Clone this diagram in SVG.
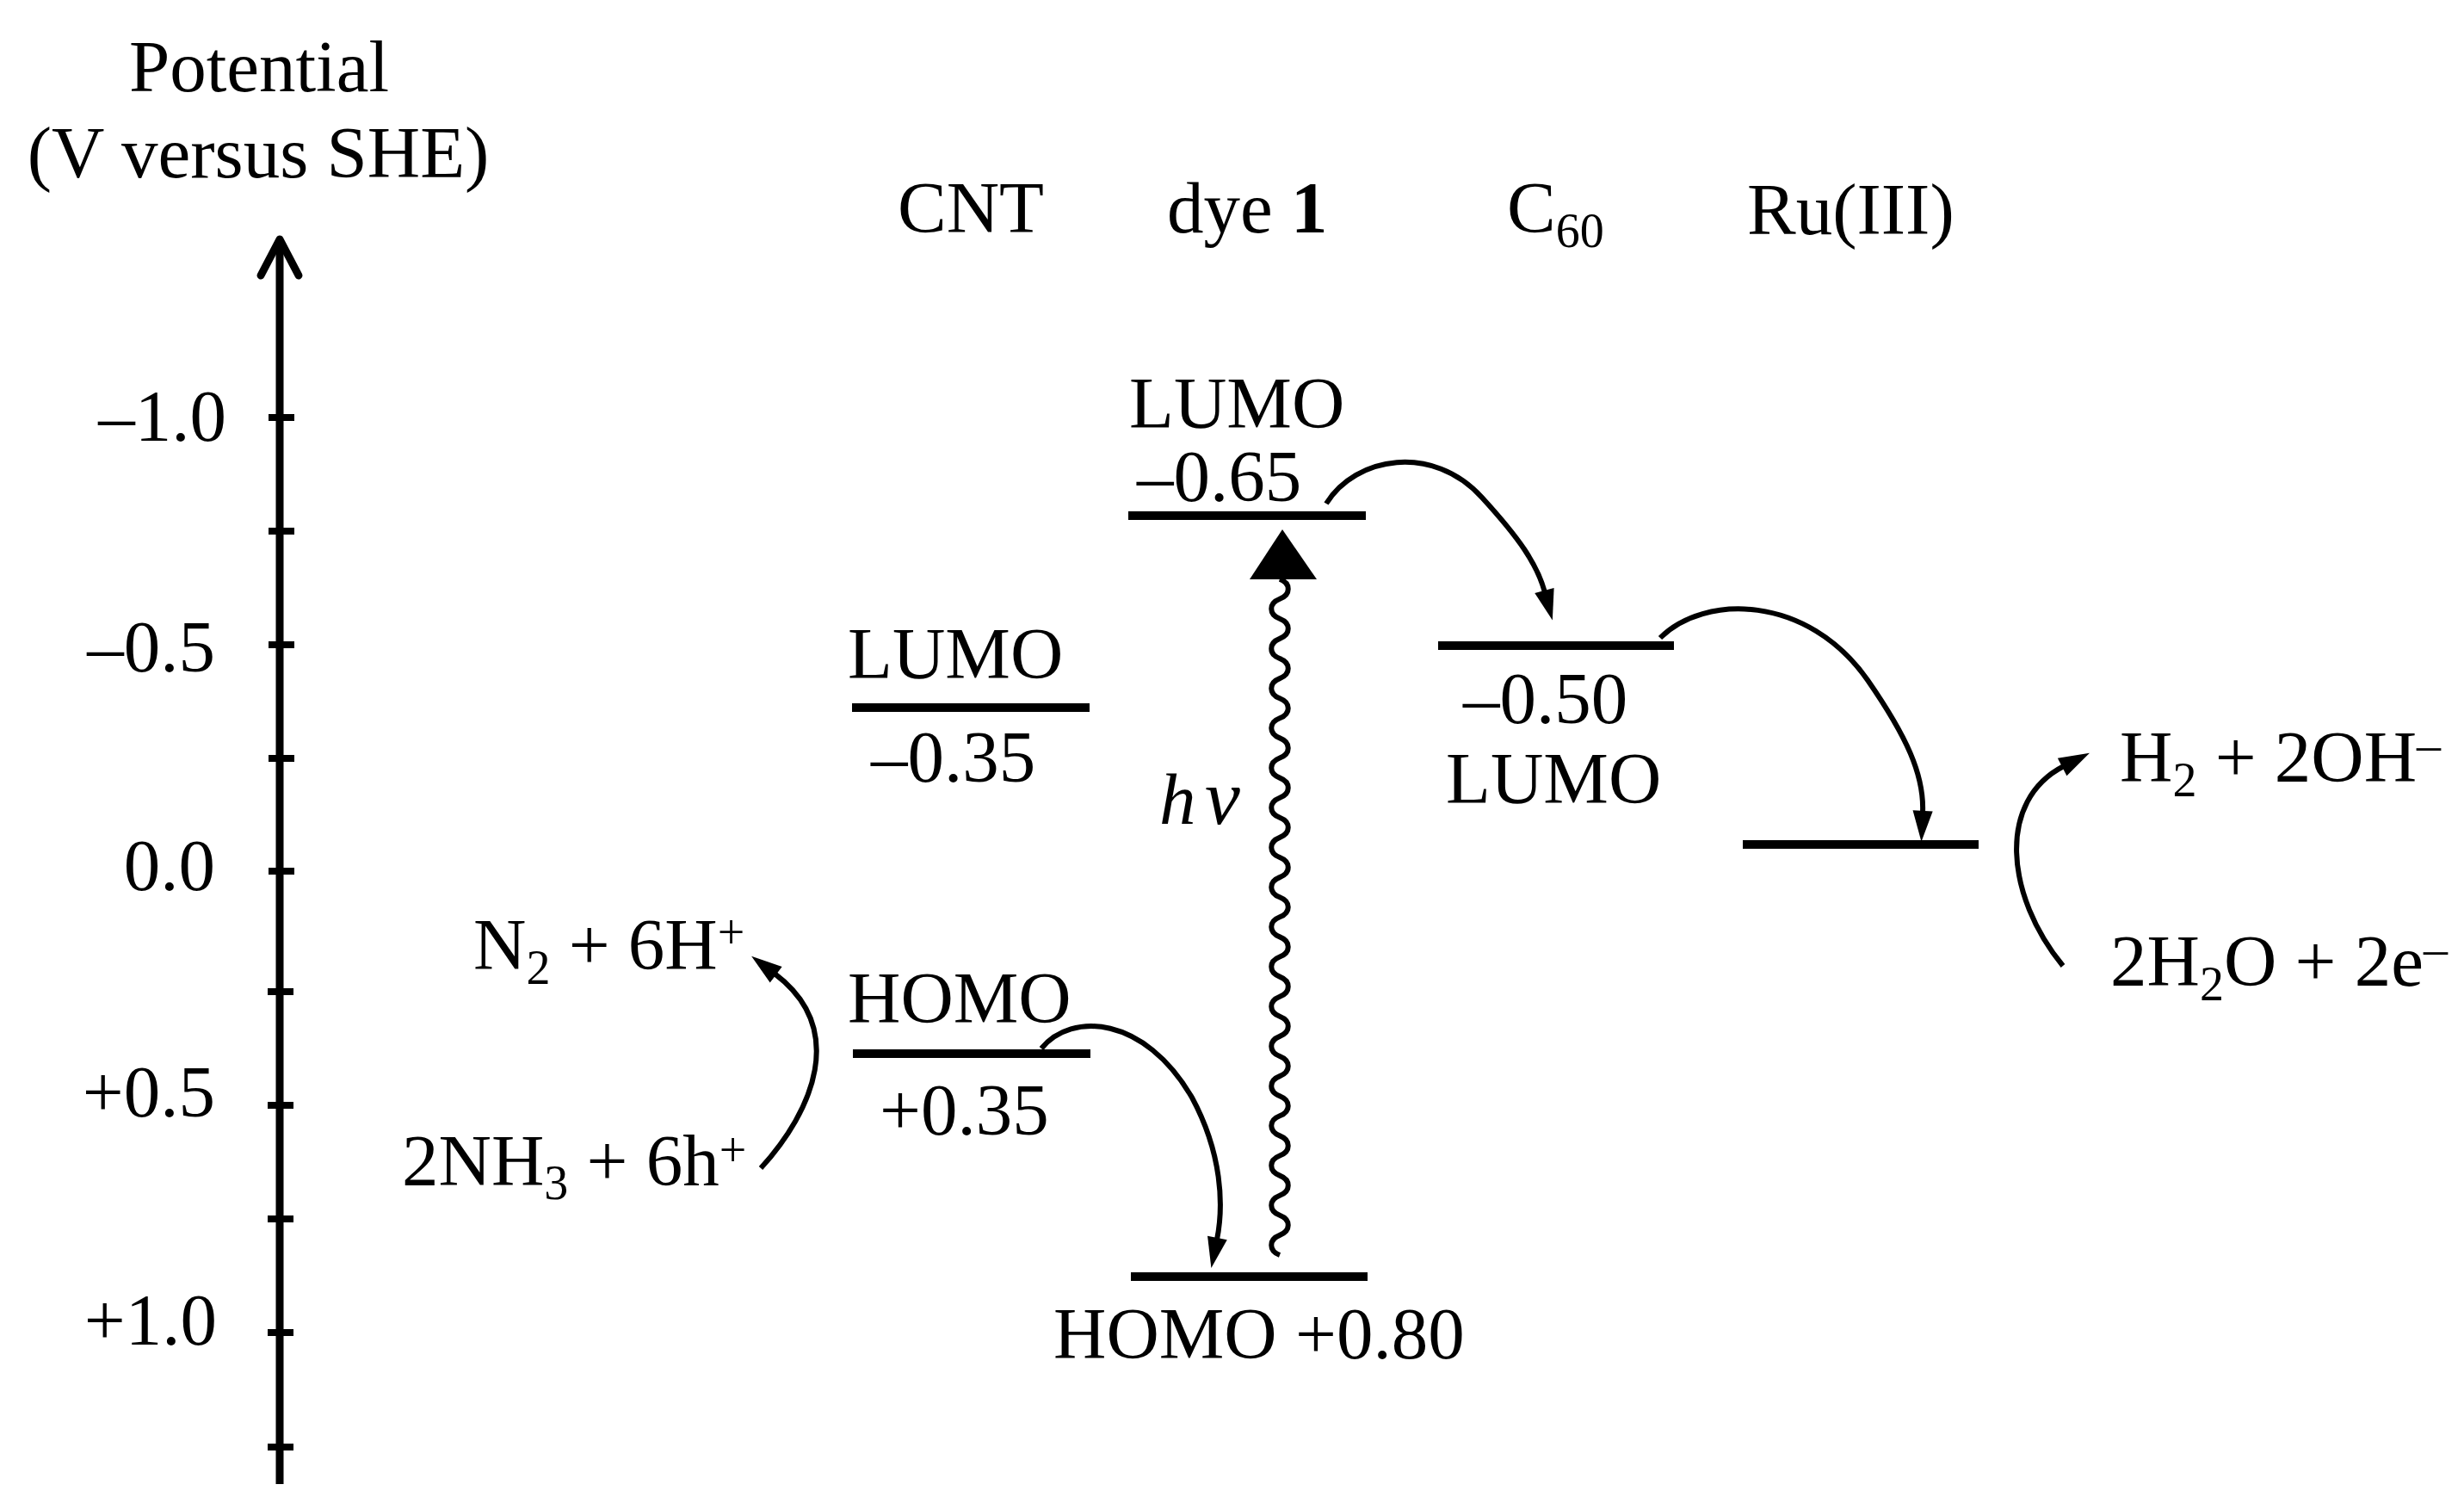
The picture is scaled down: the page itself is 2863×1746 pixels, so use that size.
<svg xmlns="http://www.w3.org/2000/svg" width="2863" height="1746" viewBox="0 0 2863 1746">
<style>
text{font-family:"Liberation Serif","Times New Roman",serif;font-size:85px;fill:#000}
.sm{font-size:56px}
.lvl{stroke:#000;stroke-width:10;fill:none}
.ax{stroke:#000;stroke-width:9;fill:none}
.tk{stroke:#000;stroke-width:8}
.cv{stroke:#000;stroke-width:6;fill:none;marker-end:url(#ah)}
</style>
<defs>
<marker id="ah" markerUnits="userSpaceOnUse" markerWidth="40" markerHeight="30" viewBox="-2 -12 38 24" refX="2" refY="0" orient="auto">
<path d="M0,-11 L34,0 L0,11 z" fill="#000"/>
</marker>
</defs>
<rect width="2863" height="1746" fill="#fff"/>

<g id="axis">
<text x="301" y="106" text-anchor="middle">Potential</text>
<text x="300" y="206" text-anchor="middle">(V versus SHE)</text>
<line class="ax" x1="325" y1="1724" x2="325" y2="280"/>
<path class="ax" d="M303,320 L325,278 L347,320" stroke-linecap="round" stroke-linejoin="round"/>
<line class="tk" x1="312" y1="485" x2="342" y2="485"/>
<line class="tk" x1="312" y1="617" x2="342" y2="617"/>
<line class="tk" x1="312" y1="749" x2="342" y2="749"/>
<line class="tk" x1="312" y1="881" x2="342" y2="881"/>
<line class="tk" x1="312" y1="1012" x2="342" y2="1012"/>
<line class="tk" x1="311" y1="1152" x2="341" y2="1152"/>
<line class="tk" x1="311" y1="1284" x2="341" y2="1284"/>
<line class="tk" x1="311" y1="1416" x2="341" y2="1416"/>
<line class="tk" x1="311" y1="1548" x2="341" y2="1548"/>
<line class="tk" x1="311" y1="1681" x2="341" y2="1681"/>
<text x="263" y="512" text-anchor="end">–1.0</text>
<text x="250" y="780" text-anchor="end">–0.5</text>
<text x="250" y="1034" text-anchor="end">0.0</text>
<text x="250" y="1297" text-anchor="end">+0.5</text>
<text x="252" y="1562" text-anchor="end">+1.0</text>
</g>

<g id="headers">
<text x="1128" y="270" text-anchor="middle">CNT</text>
<text x="1356" y="270">dye <tspan font-weight="bold">1</tspan></text>
<text x="1751" y="270">C<tspan class="sm" dy="17">60</tspan></text>
<text x="2030" y="272">Ru(III)</text>
</g>

<g id="cnt-lumo">
<line class="lvl" x1="990" y1="822" x2="1266" y2="822"/>
<text x="985" y="788">LUMO</text>
<text x="1012" y="908">–0.35</text>
</g>

<g id="cnt-homo">
<line class="lvl" x1="991" y1="1224" x2="1267" y2="1224"/>
<text x="985" y="1188">HOMO</text>
<text x="1022" y="1318">+0.35</text>
</g>

<g id="dye-lumo">
<line class="lvl" x1="1311" y1="599" x2="1587" y2="599"/>
<text x="1312" y="497">LUMO</text>
<text x="1321" y="582">–0.65</text>
</g>

<g id="dye-homo">
<line class="lvl" x1="1314" y1="1483" x2="1589" y2="1483"/>
<text x="1224" y="1578">HOMO +0.80</text>
</g>

<g id="c60-lumo">
<line class="lvl" x1="1671" y1="750" x2="1945" y2="750"/>
<text x="1700" y="840">–0.50</text>
<text x="1680" y="933">LUMO</text>
</g>

<g id="ru">
<line class="lvl" x1="2025" y1="981" x2="2299" y2="981"/>
</g>

<g id="nh3">
<text x="467" y="1377">2NH<tspan class="sm" dy="16">3</tspan><tspan dy="-16"> + 6h</tspan><tspan class="sm" dy="-22">+</tspan></text>
</g>
<g id="n2">
<text x="550" y="1126">N<tspan class="sm" dy="17">2</tspan><tspan dy="-17"> + 6H</tspan><tspan class="sm" dy="-24">+</tspan></text>
</g>
<g id="h2o">
<text x="2452" y="1145">2H<tspan class="sm" dy="17">2</tspan><tspan dy="-17">O + 2e</tspan><tspan class="sm" dy="-24">–</tspan></text>
</g>
<g id="h2">
<text x="2463" y="908">H<tspan class="sm" dy="17">2</tspan><tspan dy="-17"> + 2OH</tspan><tspan class="sm" dy="-24">–</tspan></text>
</g>

<g id="hv">
<text y="957" font-style="italic"><tspan x="1347">h</tspan><tspan x="1400" font-size="92">ν</tspan></text>
</g>

<g id="connectors">
<path d="M1487,1458 c-13,-5 -13,-18.1 0,-23.1 c13,-5 13,-18.1 0,-23.1 c-13,-5 -13,-18.1 0,-23.1 c13,-5 13,-18.1 0,-23.1 c-13,-5 -13,-18.1 0,-23.1 c13,-5 13,-18.1 0,-23.1 c-13,-5 -13,-18.1 0,-23.1 c13,-5 13,-18.1 0,-23.1 c-13,-5 -13,-18.1 0,-23.1 c13,-5 13,-18.1 0,-23.1 c-13,-5 -13,-18.1 0,-23.1 c13,-5 13,-18.1 0,-23.1 c-13,-5 -13,-18.1 0,-23.1 c13,-5 13,-18.1 0,-23.1 c-13,-5 -13,-18.1 0,-23.1 c13,-5 13,-18.1 0,-23.1 c-13,-5 -13,-18.1 0,-23.1 c13,-5 13,-18.1 0,-23.1 c-13,-5 -13,-18.1 0,-23.1 c13,-5 13,-18.1 0,-23.1 c-13,-5 -13,-18.1 0,-23.1 c13,-5 13,-18.1 0,-23.1 c-13,-5 -13,-18.1 0,-23.1 c13,-5 13,-18.1 0,-23.1 c-13,-5 -13,-18.1 0,-23.1 c13,-5 13,-18.1 0,-23.1 c-13,-5 -13,-18.1 0,-23.1 c13,-5 13,-18.1 0,-23.1 c-13,-5 -13,-18.1 0,-23.1 c13,-5 13,-18.1 0,-23.1 c-13,-5 -13,-18.1 0,-23.1 c13,-5 13,-18.1 0,-23.1 c-13,-5 -13,-18.1 0,-23.1 c13,-5 13,-18.1 0,-23.1" fill="none" stroke="#000" stroke-width="6"/>
<path d="M1452,673 L1490,615 L1530,673 z" fill="#000"/>
<path class="cv" d="M1541,585 C1575,530 1665,515 1722,578 C1765,625 1786,655 1795,688"/>
<path class="cv" d="M1210,1218 C1245,1175 1330,1180 1385,1275 C1420,1340 1422,1400 1414,1440"/>
<path class="cv" d="M1929,741 C1980,690 2100,690 2170,790 C2215,855 2236,900 2234,944"/>
<path class="cv" d="M884,1357 C945,1290 985,1195 900,1131"/>
<path class="cv" d="M2397,1122 C2330,1040 2320,930 2398,890"/>
</g>
</svg>
